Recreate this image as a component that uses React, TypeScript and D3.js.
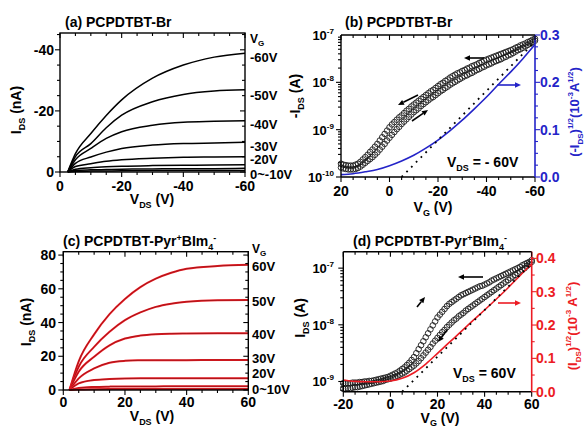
import React from "react";
import * as d3 from "d3";

const FONT = "'Liberation Sans', Arial, Helvetica, sans-serif";
const RED = "#ec1c24";
const BLUE = "#2424c8";

// ---------- Panel (a): output curves, PCPDTBT-Br (x = VDS, negative) ----------
const aVds = [-2.5, -5, -10, -15, -20, -30, -40, -50, -60];
const aI_m60 = [0, -6, -12.6, -18.5, -23.6, -30.7, -35, -37.6, -38.9];
const aI_m50 = [0, -5, -9.3, -14.5, -18.6, -23, -25.4, -26.5, -26.9];
const aI_m40 = [0, -4, -7.7, -11, -13.2, -15.3, -16.3, -16.6, -16.8];
const aI_m30 = [0, -2.8, -4.9, -6.5, -7.7, -8.8, -9.3, -9.5, -9.7];
const aI_m20 = [0, -1.8, -2.7, -3.5, -4.0, -4.5, -4.8, -4.9, -5.0];
const aI_m10 = [0, -0.9, -1.4, -1.7, -1.9, -2.1, -2.2, -2.3, -2.4];
const aI_m5 = [0, -0.5, -0.7, -0.8, -0.9, -1.0, -1.1, -1.1, -1.2];
const aI_0 = [0, -0.2, -0.3, -0.35, -0.4, -0.45, -0.5, -0.5, -0.5];
const aLabels = ["-60V", "-50V", "-40V", "-30V", "-20V", "0~-10V"];
const aLabelY = [-37.8, -25.2, -15.7, -8.6, -4.2, 0.65];

// ---------- Panel (b): transfer, PCPDTBT-Br (x = VG from 20 to -60, step -1) ----------
const bVgStart = 20;
const bVgStep = -1;
const bLogUp = [
  -9.72, -9.74, -9.75, -9.76, -9.76, -9.76, -9.74, -9.72, -9.68, -9.63,
  -9.58, -9.53, -9.47, -9.42, -9.36, -9.3, -9.23, -9.16, -9.09, -9.02,
  -8.95, -8.89, -8.84, -8.79, -8.74, -8.7, -8.65, -8.6, -8.56, -8.51,
  -8.47, -8.43, -8.39, -8.35, -8.31, -8.27, -8.23, -8.19, -8.16, -8.12,
  -8.08, -8.04, -8.01, -7.97, -7.94, -7.9, -7.87, -7.84, -7.81, -7.79,
  -7.76, -7.74, -7.71, -7.69, -7.66, -7.64, -7.62, -7.59, -7.57, -7.54,
  -7.52, -7.5, -7.48, -7.46, -7.44, -7.42, -7.4, -7.38, -7.36, -7.34,
  -7.32, -7.3, -7.27, -7.25, -7.22, -7.2, -7.18, -7.15, -7.13, -7.1, -7.08,
];
const bLogDown = [
  -9.8, -9.82, -9.83, -9.84, -9.84, -9.84, -9.83, -9.81, -9.78, -9.74,
  -9.7, -9.66, -9.62, -9.58, -9.53, -9.48, -9.42, -9.36, -9.3, -9.23,
  -9.17, -9.11, -9.05, -8.99, -8.94, -8.88, -8.83, -8.78, -8.73, -8.68,
  -8.63, -8.59, -8.55, -8.5, -8.46, -8.42, -8.38, -8.34, -8.31, -8.27,
  -8.23, -8.19, -8.16, -8.12, -8.09, -8.05, -8.02, -7.99, -7.96, -7.93,
  -7.9, -7.87, -7.85, -7.82, -7.8, -7.77, -7.74, -7.72, -7.69, -7.67,
  -7.64, -7.62, -7.6, -7.57, -7.55, -7.53, -7.51, -7.48, -7.46, -7.43,
  -7.41, -7.38, -7.35, -7.32, -7.3, -7.27, -7.24, -7.21, -7.18, -7.15, -7.12,
];
const bSqrtVg = [20, 15, 10, 5, 0, -5, -10, -15, -20, -25, -30, -35, -40, -45, -50, -55, -60];
const bSqrt = [0.005, 0.007, 0.011, 0.016, 0.024, 0.034, 0.046, 0.061, 0.078, 0.098, 0.12, 0.144, 0.169, 0.196, 0.222, 0.25, 0.28];
const bFitVg = [-5, -60];
const bFit = [0, 0.286];

// ---------- Panel (c): output curves, PCPDTBT-Pyr+BIm4- ----------
const cVds = [2, 5, 10, 15, 20, 25, 30, 35, 40, 50, 60];
const cI_60 = [0, 17, 33, 45, 54, 61, 66, 69.5, 71.9, 73.5, 74.2];
const cI_50 = [0, 13.8, 25.6, 34.5, 41.4, 46, 49.3, 51.2, 52.3, 53.2, 53.3];
const cI_40 = [0, 10.8, 19.7, 26.5, 30.5, 32.3, 33.1, 33.4, 33.5, 33.6, 33.6];
const cI_30 = [0, 6.9, 12.8, 16.2, 17.3, 17.6, 17.7, 17.7, 17.7, 17.8, 17.8];
const cI_20 = [0, 3.9, 5.9, 6.5, 6.8, 6.9, 6.9, 6.9, 6.9, 6.9, 6.9];
const cI_10 = [0, 1.2, 1.8, 2.0, 2.1, 2.1, 2.1, 2.2, 2.2, 2.2, 2.2];
const cI_0 = [0, 0.3, 0.5, 0.6, 0.6, 0.6, 0.6, 0.6, 0.6, 0.6, 0.6];
const cLabels = ["60V", "50V", "40V", "30V", "20V", "0~10V"];
const cLabelY = [73.8, 53, 33.2, 18.8, 9.9, 0.6];

// ---------- Panel (d): transfer, PCPDTBT-Pyr+BIm4- (x = VG from -20 to 60, step 1) ----------
const dVgStart = -20;
const dVgStep = 1;
const dLogUp = [
  -9.03, -9.03, -9.03, -9.03, -9.02, -9.02, -9.02, -9.01, -9.01, -9.0,
  -9.0, -8.99, -8.99, -8.98, -8.97, -8.96, -8.95, -8.94, -8.93, -8.92,
  -8.9, -8.88, -8.86, -8.84, -8.81, -8.78, -8.75, -8.71, -8.67, -8.62,
  -8.57, -8.5, -8.43, -8.36, -8.29, -8.22, -8.15, -8.08, -8.01, -7.94,
  -7.87, -7.82, -7.77, -7.72, -7.67, -7.63, -7.6, -7.57, -7.54, -7.51,
  -7.48, -7.46, -7.44, -7.42, -7.4, -7.38, -7.36, -7.34, -7.32, -7.31,
  -7.29, -7.27, -7.25, -7.22, -7.2, -7.18, -7.16, -7.14, -7.12, -7.1,
  -7.08, -7.06, -7.04, -7.02, -7.0, -6.98, -6.95, -6.93, -6.91, -6.89, -6.86,
];
const dLogDown = [
  -9.13, -9.13, -9.12, -9.12, -9.11, -9.1, -9.1, -9.09, -9.08, -9.07,
  -9.06, -9.05, -9.04, -9.03, -9.02, -9.01, -9.0, -8.99, -8.97, -8.96,
  -8.95, -8.93, -8.92, -8.9, -8.88, -8.86, -8.84, -8.81, -8.78, -8.75,
  -8.72, -8.68, -8.64, -8.59, -8.54, -8.49, -8.44, -8.39, -8.33, -8.28,
  -8.23, -8.18, -8.13, -8.09, -8.04, -8.0, -7.96, -7.92, -7.89, -7.85,
  -7.82, -7.79, -7.75, -7.72, -7.69, -7.66, -7.63, -7.6, -7.57, -7.54,
  -7.51, -7.48, -7.45, -7.42, -7.39, -7.36, -7.33, -7.3, -7.27, -7.24,
  -7.21, -7.18, -7.15, -7.12, -7.09, -7.06, -7.03, -7.0, -6.96, -6.93, -6.89,
];
const dSqrtVg = [-20, -15, -10, -5, 0, 5, 10, 15, 20, 25, 30, 35, 40, 45, 50, 55, 60];
const dSqrt = [0.035, 0.031, 0.03, 0.03, 0.032, 0.04, 0.057, 0.083, 0.115, 0.148, 0.18, 0.213, 0.245, 0.278, 0.312, 0.348, 0.383];
const dFitVg = [5, 60];
const dFit = [0, 0.385];

// ---------- helpers ----------
type TickSpec = { v: number; major: boolean };
function linTicks(lo: number, hi: number, minorStep: number, majorEvery: number): TickSpec[] {
  const out: TickSpec[] = [];
  const n = Math.round((hi - lo) / minorStep);
  for (let i = 0; i <= n; i++) out.push({ v: lo + i * minorStep, major: i % majorEvery === 0 });
  return out;
}
function logTicks(loExp: number, hiExp: number): TickSpec[] {
  const out: TickSpec[] = [];
  for (let e = loExp; e <= hiExp; e++) {
    for (let m = 1; m <= 9; m++) out.push({ v: m * Math.pow(10, e), major: m === 1 });
  }
  return out;
}

function HTicks({ scale, ticks, y, dir, color = "#000", lo, hi }: any) {
  return (
    <g stroke={color} strokeWidth={1.1}>
      {ticks.map((t: TickSpec, i: number) => {
        const x = scale(t.v);
        if (x < lo - 0.5 || x > hi + 0.5) return null;
        const len = t.major ? 5 : 3;
        return <line key={i} x1={x} x2={x} y1={y} y2={y + dir * len} />;
      })}
    </g>
  );
}
function VTicks({ scale, ticks, x, dir, color = "#000", lo, hi }: any) {
  return (
    <g stroke={color} strokeWidth={1.1}>
      {ticks.map((t: TickSpec, i: number) => {
        const y = scale(t.v);
        if (y < lo - 0.5 || y > hi + 0.5) return null;
        const len = t.major ? 5 : 3;
        return <line key={i} x1={x} x2={x + dir * len} y1={y} y2={y} />;
      })}
    </g>
  );
}

function Arrow({ x1, y1, x2, y2, color = "#000", w = 1.6, head = 6 }: any) {
  const a = Math.atan2(y2 - y1, x2 - x1);
  const hx = x2 - head * Math.cos(a);
  const hy = y2 - head * Math.sin(a);
  const px = Math.sin(a) * head * 0.45;
  const py = -Math.cos(a) * head * 0.45;
  return (
    <g>
      <line x1={x1} y1={y1} x2={hx} y2={hy} stroke={color} strokeWidth={w} />
      <path d={`M${x2},${y2}L${hx + px},${hy + py}L${hx - px},${hy - py}Z`} fill={color} />
    </g>
  );
}

function Pow10({ x, y, exp, anchor = "end", size = 13 }: any) {
  return (
    <text x={x} y={y} textAnchor={anchor} fontSize={size} fontWeight="bold" fontFamily={FONT}>
      10<tspan dy={-6} fontSize={size * 0.62}>{exp}</tspan>
    </text>
  );
}

const lineGen = (xs: (v: number) => number, ys: (v: number) => number) =>
  d3.line<[number, number]>().x((d) => xs(d[0])).y((d) => ys(d[1])).curve(d3.curveMonotoneX);

export default function App() {
  const xA = d3.scaleLinear().domain([0, -60]).range([60, 245]);
  const yA = d3.scaleLinear().domain([0, -45.5]).range([172, 33]);
  const aSeries = [aI_m60, aI_m50, aI_m40, aI_m30, aI_m20, aI_m10, aI_m5, aI_0];
  const lA = lineGen(xA, yA);

  const xB = d3.scaleLinear().domain([20, -60]).range([341, 535]);
  const yB = d3.scaleLog().domain([1e-10, 1e-7]).range([177, 35]);
  const rB = d3.scaleLinear().domain([0, 0.3]).range([177, 35]);
  const lBs = lineGen(xB, rB);

  const xC = d3.scaleLinear().domain([0, 60]).range([63.3, 248.3]);
  const yC = d3.scaleLinear().domain([0, 82]).range([390, 251.7]);
  const cSeries = [cI_60, cI_50, cI_40, cI_30, cI_20, cI_10, cI_0];
  const lC = lineGen(xC, yC);

  const xD = d3.scaleLinear().domain([-20, 60]).range([343.3, 531.7]);
  const yD = d3.scaleLog().domain([Math.pow(10, -9.18), Math.pow(10, -6.71)]).range([391.7, 251.7]);
  const rD = d3.scaleLinear().domain([0, 0.42]).range([391.7, 251.7]);
  const lDs = lineGen(xD, rD);

  const txt = { fontFamily: FONT, fontWeight: "bold" as const };
  const aYTicks = linTicks(-45, 0, 5, 4).map((t) => ({ v: t.v, major: Math.round(t.v) % 20 === 0 }));

  const circles = (arr: number[], start: number, step: number, xs: any, ys: any, key: string) =>
    arr.map((L, i) => (
      <circle key={key + i} cx={xs(start + i * step)} cy={ys(Math.pow(10, L))} r={2.8}
        fill="none" stroke="#1a1a1a" strokeWidth={0.9} />
    ));

  return (
    <svg width={585} height={427} style={{ position: "absolute", left: 0, top: 0, background: "#fff" }}>
      <rect x={0} y={0} width={585} height={427} fill="#fff" />

      {/* ================= Panel (a) ================= */}
      <g>
        <text x={65} y={27} fontSize={14} {...txt}>(a) PCPDTBT-Br</text>
        {aSeries.map((s, k) => (
          <path key={k} d={lA(aVds.map((v, i) => [v, s[i]]))!} fill="none" stroke="#000" strokeWidth={1.5} />
        ))}
        <rect x={60} y={33} width={185} height={139} fill="none" stroke="#000" strokeWidth={1.4} />
        <HTicks scale={xA} ticks={linTicks(-60, 0, 5, 4)} y={172} dir={1} lo={60} hi={245} />
        <HTicks scale={xA} ticks={linTicks(-60, 0, 5, 4)} y={33} dir={1} lo={60} hi={245} />
        <VTicks scale={yA} ticks={aYTicks} x={60} dir={-1} lo={33} hi={172} />
        <VTicks scale={yA} ticks={aYTicks} x={245} dir={-1} lo={33} hi={172} />
        {[0, -20, -40, -60].map((v) => (
          <text key={v} x={xA(v)} y={191} textAnchor="middle" fontSize={14} {...txt}>{v}</text>
        ))}
        {[0, -20, -40].map((v) => (
          <text key={v} x={54} y={yA(v) + 5} textAnchor="end" fontSize={14} {...txt}>{v}</text>
        ))}
        <text x={152} y={204} textAnchor="middle" fontSize={14} {...txt}>
          V<tspan dy={4} fontSize={9}>DS</tspan><tspan dy={-4}> (V)</tspan>
        </text>
        <text transform="translate(21,110) rotate(-90)" textAnchor="middle" fontSize={14} {...txt}>
          I<tspan dy={4} fontSize={9}>DS</tspan><tspan dy={-4}> (nA)</tspan>
        </text>
        <text x={250} y={43} fontSize={12} {...txt}>V<tspan dy={3} fontSize={8}>G</tspan></text>
        {aLabels.map((s, i) => (
          <text key={s} x={250} y={yA(aLabelY[i]) + 5} fontSize={13} {...txt}>{s}</text>
        ))}
      </g>

      {/* ================= Panel (b) ================= */}
      <g>
        <text x={345} y={27} fontSize={14} {...txt}>(b) PCPDTBT-Br</text>
        {circles(bLogUp, bVgStart, bVgStep, xB, yB, "bu")}
        {circles(bLogDown, bVgStart, bVgStep, xB, yB, "bd")}
        <path d={lBs(bSqrtVg.map((v, i) => [v, bSqrt[i]]))!} fill="none" stroke={BLUE} strokeWidth={1.6} />
        <line x1={xB(bFitVg[0])} y1={rB(bFit[0])} x2={xB(bFitVg[1])} y2={rB(bFit[1])}
          stroke="#000" strokeWidth={1.8} strokeDasharray="1.8 5" />
        <line x1={341} y1={35} x2={535} y2={35} stroke="#000" strokeWidth={1.4} />
        <line x1={341} y1={177} x2={535} y2={177} stroke="#000" strokeWidth={1.4} />
        <line x1={341} y1={35} x2={341} y2={177} stroke="#000" strokeWidth={1.4} />
        <line x1={535} y1={35} x2={535} y2={177} stroke={BLUE} strokeWidth={1.6} />
        <HTicks scale={xB} ticks={linTicks(-60, 20, 5, 4)} y={177} dir={1} lo={341} hi={535} />
        <HTicks scale={xB} ticks={linTicks(-60, 20, 5, 4)} y={35} dir={1} lo={341} hi={535} />
        <VTicks scale={yB} ticks={logTicks(-10, -8)} x={341} dir={-1} lo={35} hi={177} />
        <VTicks scale={rB} ticks={linTicks(0, 0.3, 0.025, 4)} x={535} dir={1} color={BLUE} lo={35} hi={177} />
        {[20, 0, -20, -40, -60].map((v) => (
          <text key={v} x={xB(v)} y={196} textAnchor="middle" fontSize={14} {...txt}>{v}</text>
        ))}
        {[-7, -8, -9, -10].map((e) => (
          <Pow10 key={e} x={334} y={yB(Math.pow(10, e)) + 5} exp={String(e)} />
        ))}
        {[0, 0.1, 0.2, 0.3].map((v) => (
          <text key={v} x={540} y={rB(v) + 5} fontSize={14} fill={BLUE} {...txt}>{v.toFixed(1)}</text>
        ))}
        <text x={433} y={212} textAnchor="middle" fontSize={14} {...txt}>
          V<tspan dy={4} fontSize={9}>G</tspan><tspan dy={-4}> (V)</tspan>
        </text>
        <text transform="translate(300,96) rotate(-90)" textAnchor="middle" fontSize={14} {...txt}>
          -I<tspan dy={4} fontSize={9}>DS</tspan><tspan dy={-4}> (A)</tspan>
        </text>
        <text transform="translate(579,112) rotate(-90)" textAnchor="middle" fontSize={13} fill={BLUE} {...txt}>
          (-I<tspan dy={4} fontSize={8}>DS</tspan><tspan dy={-4}>)</tspan>
          <tspan dy={-6} fontSize={8}>1/2</tspan><tspan dy={6}>(10</tspan>
          <tspan dy={-6} fontSize={8}>-3</tspan><tspan dy={6}>A</tspan>
          <tspan dy={-6} fontSize={8}>1/2</tspan><tspan dy={6}>)</tspan>
        </text>
        <text x={447} y={167} fontSize={14} {...txt}>
          V<tspan dy={4} fontSize={9}>DS</tspan><tspan dy={-4}> = - 60V</tspan>
        </text>
        <Arrow x1={418} y1={95} x2={398} y2={105} />
        <Arrow x1={412} y1={121} x2={428} y2={110} />
        <Arrow x1={484} y1={58} x2={464} y2={58} />
        <Arrow x1={497} y1={85} x2={521} y2={85} color={BLUE} />
      </g>

      {/* ================= Panel (c) ================= */}
      <g>
        <text x={63} y={246} fontSize={14} {...txt}>
          (c) PCPDTBT-Pyr<tspan dy={-5} fontSize={9}>+</tspan><tspan dy={5}>BIm</tspan>
          <tspan dy={4} fontSize={9}>4</tspan><tspan dy={-9} fontSize={9}>-</tspan>
        </text>
        {cSeries.map((s, k) => {
          const d = lC(cVds.map((v, i) => [v, s[i]]))!;
          return (
            <g key={k}>
              <path d={d} fill="none" stroke={RED} strokeWidth={2} />
              <path d={d} fill="none" stroke="#5a0c0c" strokeWidth={0.55} strokeOpacity={0.85} />
            </g>
          );
        })}
        <rect x={63.3} y={251.7} width={185} height={138.3} fill="none" stroke="#000" strokeWidth={1.4} />
        <HTicks scale={xC} ticks={linTicks(0, 60, 5, 4)} y={390} dir={1} lo={63} hi={249} />
        <HTicks scale={xC} ticks={linTicks(0, 60, 5, 4)} y={251.7} dir={1} lo={63} hi={249} />
        <VTicks scale={yC} ticks={linTicks(0, 80, 5, 4)} x={63.3} dir={-1} lo={251} hi={391} />
        <VTicks scale={yC} ticks={linTicks(0, 80, 5, 4)} x={248.3} dir={-1} lo={251} hi={391} />
        {[0, 20, 40, 60].map((v) => (
          <text key={v} x={xC(v)} y={407} textAnchor="middle" fontSize={14} {...txt}>{v}</text>
        ))}
        {[0, 20, 40, 60, 80].map((v) => (
          <text key={v} x={56} y={yC(v) + 5} textAnchor="end" fontSize={14} {...txt}>{v}</text>
        ))}
        <text x={152} y={421} textAnchor="middle" fontSize={14} {...txt}>
          V<tspan dy={4} fontSize={9}>DS</tspan><tspan dy={-4}> (V)</tspan>
        </text>
        <text transform="translate(31,322) rotate(-90)" textAnchor="middle" fontSize={14} {...txt}>
          I<tspan dy={4} fontSize={9}>DS</tspan><tspan dy={-4}> (nA)</tspan>
        </text>
        <text x={252} y={253} fontSize={12} {...txt}>V<tspan dy={3} fontSize={8}>G</tspan></text>
        {cLabels.map((s, i) => (
          <text key={s} x={252} y={yC(cLabelY[i]) + 5} fontSize={13} {...txt}>{s}</text>
        ))}
      </g>

      {/* ================= Panel (d) ================= */}
      <g>
        <text x={353} y={246} fontSize={14} {...txt}>
          (d) PCPDTBT-Pyr<tspan dy={-5} fontSize={9}>+</tspan><tspan dy={5}>BIm</tspan>
          <tspan dy={4} fontSize={9}>4</tspan><tspan dy={-9} fontSize={9}>-</tspan>
        </text>
        {circles(dLogUp, dVgStart, dVgStep, xD, yD, "du")}
        {circles(dLogDown, dVgStart, dVgStep, xD, yD, "dd")}
        <path d={lDs(dSqrtVg.map((v, i) => [v, dSqrt[i]]))!} fill="none" stroke={RED} strokeWidth={1.6} />
        <line x1={xD(dFitVg[0])} y1={rD(dFit[0])} x2={xD(dFitVg[1])} y2={rD(dFit[1])}
          stroke="#000" strokeWidth={1.8} strokeDasharray="1.8 5" />
        <line x1={343.3} y1={251.7} x2={531.7} y2={251.7} stroke="#000" strokeWidth={1.4} />
        <line x1={343.3} y1={391.7} x2={531.7} y2={391.7} stroke="#000" strokeWidth={1.4} />
        <line x1={343.3} y1={251.7} x2={343.3} y2={391.7} stroke="#000" strokeWidth={1.4} />
        <line x1={531.7} y1={251.7} x2={531.7} y2={391.7} stroke={RED} strokeWidth={1.6} />
        <HTicks scale={xD} ticks={linTicks(-20, 60, 5, 4)} y={391.7} dir={1} lo={343} hi={532} />
        <HTicks scale={xD} ticks={linTicks(-20, 60, 5, 4)} y={251.7} dir={1} lo={343} hi={532} />
        <VTicks scale={yD} ticks={logTicks(-10, -7)} x={343.3} dir={-1} lo={251.7} hi={391.7} />
        <VTicks scale={rD} ticks={linTicks(0, 0.4, 0.05, 2)} x={531.7} dir={1} color={RED} lo={251.7} hi={391.7} />
        {[-20, 0, 20, 40, 60].map((v) => (
          <text key={v} x={xD(v)} y={409} textAnchor="middle" fontSize={14} {...txt}>{v}</text>
        ))}
        {[-7, -8, -9].map((e) => (
          <Pow10 key={e} x={334} y={yD(Math.pow(10, e)) + 5} exp={String(e)} />
        ))}
        {[0, 0.1, 0.2, 0.3, 0.4].map((v) => (
          <text key={v} x={536} y={rD(v) + 5} fontSize={14} fill={RED} {...txt}>{v.toFixed(1)}</text>
        ))}
        <text x={440} y={423} textAnchor="middle" fontSize={14} {...txt}>
          V<tspan dy={3} fontSize={9}>G</tspan><tspan dy={-3}> (V)</tspan>
        </text>
        <text transform="translate(305,318) rotate(-90)" textAnchor="middle" fontSize={14} {...txt}>
          I<tspan dy={4} fontSize={9}>DS</tspan><tspan dy={-4}> (A)</tspan>
        </text>
        <text transform="translate(577,326) rotate(-90)" textAnchor="middle" fontSize={13} fill={RED} {...txt}>
          (I<tspan dy={4} fontSize={8}>DS</tspan><tspan dy={-4}>)</tspan>
          <tspan dy={-6} fontSize={8}>1/2</tspan><tspan dy={6}>(10</tspan>
          <tspan dy={-6} fontSize={8}>-3</tspan><tspan dy={6}> A</tspan>
          <tspan dy={-6} fontSize={8}>1/2</tspan><tspan dy={6}>)</tspan>
        </text>
        <text x={453} y={378} fontSize={14} {...txt}>
          V<tspan dy={4} fontSize={9}>DS</tspan><tspan dy={-4}> =  60V</tspan>
        </text>
        <Arrow x1={417} y1={307} x2={425} y2={297} />
        <Arrow x1={447} y1={330} x2={438} y2={342} />
        <Arrow x1={483} y1={277} x2={458} y2={277} />
        <Arrow x1={498} y1={303} x2={521} y2={303} color={RED} />
      </g>
    </svg>
  );
}
